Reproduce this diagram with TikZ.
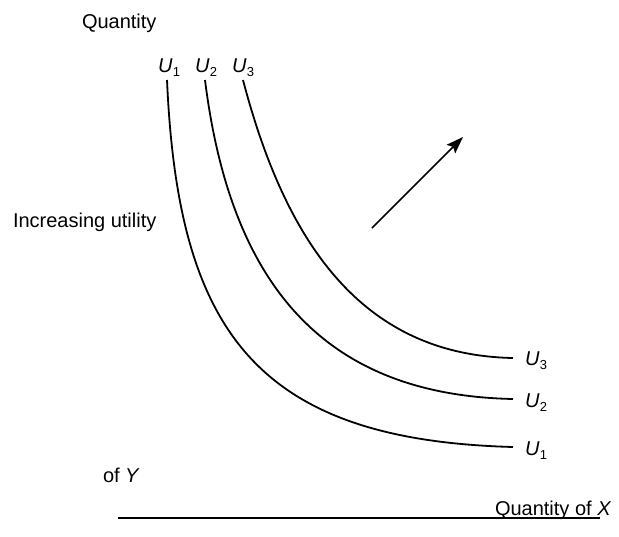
\documentclass[tikz,border=0pt]{standalone}
\usepackage{fontspec}
\setmainfont{Liberation Sans}
\usetikzlibrary{arrows.meta}
\newcommand{\ulab}[1]{\textit{U}\kern0.3pt\raisebox{-0.4ex}{\fontsize{13}{13}\selectfont #1}}
\begin{document}
\begin{tikzpicture}[x=1pt,y=-1pt,
  lbl/.style={inner sep=0pt,outer sep=0pt,anchor=base west,font=\fontsize{20}{24}\selectfont},
  ulbl/.style={inner sep=0pt,outer sep=0pt,anchor=base west,font=\fontsize{20}{24}\selectfont},
  curve/.style={line width=1.8pt,black},
  axis/.style={line width=1.1pt,black},
  dirarrow/.style={line width=1.5pt,-{Stealth[length=17pt,width=12pt,inset=3pt]}}]
\useasboundingbox (0,0) rectangle (619,536);
% texts
\node[lbl] (qty) at (82,28) {Quantity};
\node[lbl] (inc) at (13,227) {Increasing utility};
\node[lbl] (ofy) at (103,482) {of \textit{Y}};
\node[lbl] (qx) at (495,515) {Quantity of \textit{X}};
% top labels
\node[ulbl] (t1) at (158,72) {\ulab{1}};
\node[ulbl] (t2) at (195,72) {\ulab{2}};
\node[ulbl] (t3) at (232,72) {\ulab{3}};
% right labels
\node[ulbl] (r3) at (525,365) {\ulab{3}};
\node[ulbl] (r2) at (525,407) {\ulab{2}};
\node[ulbl] (r1) at (525,455) {\ulab{1}};
% curves
\coordinate (u1s) at (167,80);  \coordinate (u1e) at (513,447);
\coordinate (u2s) at (205,80);  \coordinate (u2e) at (513,399);
\coordinate (u3s) at (243,80);  \coordinate (u3e) at (513,358);
\draw[curve] (u1s) .. controls (178,330) and (255,440) .. (u1e);
\draw[curve] (u2s) .. controls (230,280) and (320,395) .. (u2e);
\draw[curve] (u3s) .. controls (285,240) and (360,355) .. (u3e);
% arrow
\coordinate (a0) at (372,228);
\coordinate (a1) at (463,137);
\draw[dirarrow] (a0) -- (a1);
% axis
\coordinate (x0) at (118,518);
\coordinate (x1) at (600,518);
\draw[axis] (x0) -- (x1);
\end{tikzpicture}
\end{document}
